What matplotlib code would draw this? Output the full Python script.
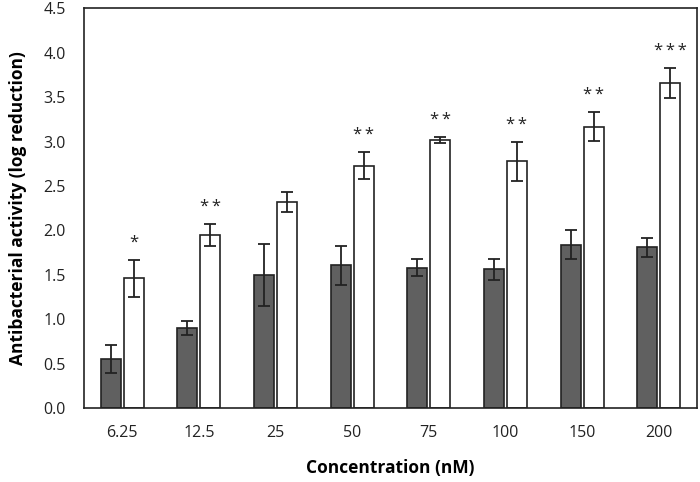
import numpy as np
import matplotlib
matplotlib.use("Agg")
import matplotlib.pyplot as plt

# Data
concentrations = ["6.25", "12.5", "25", "50", "75", "100", "150", "200"]
dark_vals = [0.55, 0.90, 1.50, 1.61, 1.58, 1.56, 1.84, 1.81]
dark_err = [0.16, 0.08, 0.35, 0.22, 0.095, 0.12, 0.16, 0.11]
white_vals = [1.46, 1.95, 2.32, 2.73, 3.02, 2.78, 3.17, 3.66]
white_err = [0.21, 0.12, 0.11, 0.15, 0.03, 0.22, 0.165, 0.17]
stars = ["*", "**", "", "**", "**", "**", "**", "***"]

plt.rcParams["font.family"] = ["Open Sans", "DejaVu Sans"]

fig = plt.figure(figsize=(7, 4.82), dpi=100)
ax = fig.add_axes([0.12, 0.1535, 0.8757, 0.829])

x = np.arange(len(concentrations))
w = 0.26
off = 0.15
err_kw = dict(ecolor="#222222", elinewidth=1.3, capsize=4, capthick=1.3)

ax.bar(x - off, dark_vals, w, color="#606060", edgecolor="#222222", linewidth=1.2,
       yerr=dark_err, error_kw=err_kw, zorder=2)
ax.bar(x + off, white_vals, w, color="white", edgecolor="#222222", linewidth=1.2,
       yerr=white_err, error_kw=err_kw, zorder=2)

# significance marks above the white bars
for xi, v, e, s in zip(x, white_vals, white_err, stars):
    if s:
        ax.text(xi + off, v + e + 0.1, "\u2009".join(s), ha="center", va="bottom",
                fontsize=12, color="#222222")

ax.set_xlim(-0.5, len(concentrations) - 0.5)
ax.set_ylim(0, 4.5)
ticks = np.arange(0, 4.51, 0.5)
ax.set_yticks(ticks)
ax.set_yticklabels([f"{t:.1f}" for t in ticks])
ax.set_xticks(x)
ax.set_xticklabels(concentrations)
ax.tick_params(axis="both", length=0, labelsize=11.5, colors="#222222")
ax.tick_params(axis="y", pad=13)
ax.tick_params(axis="x", pad=12)

for sp in ax.spines.values():
    sp.set_linewidth(1.2)
    sp.set_color("#222222")

ax.set_xlabel("Concentration (nM)", fontsize=12.5, fontweight="bold", labelpad=13)
ax.set_ylabel("Antibacterial activity (log reduction)", fontsize=12.5, fontweight="bold", labelpad=12)

fig.savefig("out.png", dpi=100)
